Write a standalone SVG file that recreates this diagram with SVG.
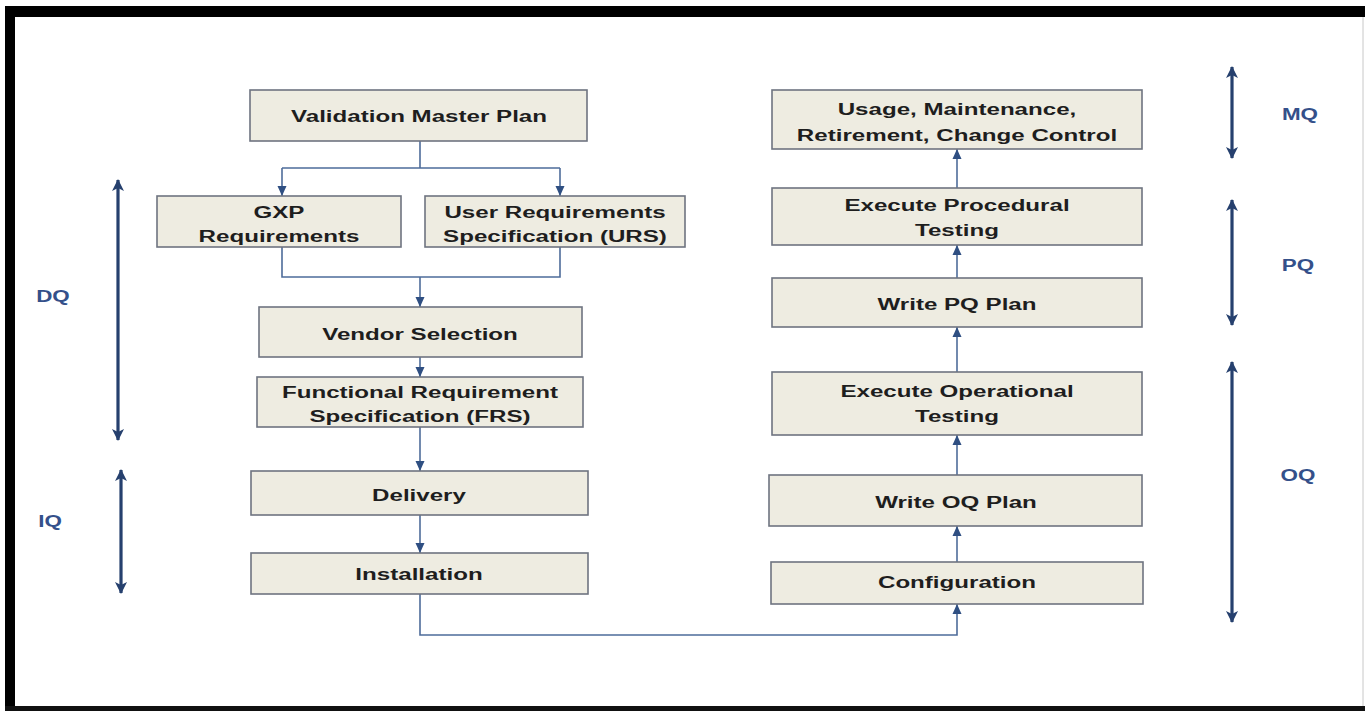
<svg xmlns="http://www.w3.org/2000/svg" width="1365" height="711" viewBox="0 0 1365 711">
  <style>
    .box { fill: #EEECE1; stroke: #6E7480; stroke-width: 1.6; }
    .t { font-family: "Liberation Sans", Arial, sans-serif; font-weight: bold; font-size: 17px; fill: #1E1E1E; text-anchor: middle; }
    .lbl { font-family: "Liberation Sans", Arial, sans-serif; font-weight: bold; font-size: 16px; fill: #34508A; text-anchor: middle; }
    .conn { fill: none; stroke: #4E6C9A; stroke-width: 1.6; }
    .span { fill: none; stroke: #26406E; stroke-width: 3.2; }
  </style>
  <defs>
    <marker id="ah" markerUnits="userSpaceOnUse" markerWidth="12" markerHeight="12" viewBox="0 0 12 12" refX="11" refY="6" orient="auto">
      <path d="M1,1.5 L11,6 L1,10.5 Z" fill="#2F4F82"/>
    </marker>
    <marker id="dh" markerUnits="userSpaceOnUse" markerWidth="14" markerHeight="14" viewBox="0 0 14 14" refX="12" refY="7" orient="auto-start-reverse">
      <path d="M1,1 L13,7 L1,13 L4,7 Z" fill="#26406E"/>
    </marker>
  </defs>

  <rect x="0" y="0" width="1365" height="711" fill="#FFFFFF"/>
  <g id="frame">
    <rect x="5" y="6" width="1360" height="11" fill="#000"/>
    <rect x="5" y="6" width="10" height="705" fill="#000"/>
    <rect x="5" y="706" width="1360" height="5" fill="#111"/>
    <line x1="1363" y1="17" x2="1363" y2="706" stroke="#C8C8C8" stroke-width="1"/>
  </g>

  <g id="connectors">
    <path class="conn" d="M420,141 V168 M282,168 H560"/>
    <path class="conn" d="M282,168 V196" marker-end="url(#ah)"/>
    <path class="conn" d="M560,168 V196" marker-end="url(#ah)"/>
    <path class="conn" d="M282,247 V277 H560 V247"/>
    <path class="conn" d="M420,277 V307" marker-end="url(#ah)"/>
    <path class="conn" d="M420,357 V377" marker-end="url(#ah)"/>
    <path class="conn" d="M420,427 V471" marker-end="url(#ah)"/>
    <path class="conn" d="M420,515 V553" marker-end="url(#ah)"/>
    <path class="conn" d="M420,594 V635 H957 V604" marker-end="url(#ah)"/>
    <path class="conn" d="M957,562 V526" marker-end="url(#ah)"/>
    <path class="conn" d="M957,475 V435" marker-end="url(#ah)"/>
    <path class="conn" d="M957,372 V327" marker-end="url(#ah)"/>
    <path class="conn" d="M957,278 V245" marker-end="url(#ah)"/>
    <path class="conn" d="M957,188 V149" marker-end="url(#ah)"/>
  </g>

  <g id="phase-arrows">
    <path class="span" d="M118,180 V440" marker-start="url(#dh)" marker-end="url(#dh)"/>
    <path class="span" d="M121,470 V593" marker-start="url(#dh)" marker-end="url(#dh)"/>
    <path class="span" d="M1232,67 V158" marker-start="url(#dh)" marker-end="url(#dh)"/>
    <path class="span" d="M1232,200 V325" marker-start="url(#dh)" marker-end="url(#dh)"/>
    <path class="span" d="M1232,362 V622" marker-start="url(#dh)" marker-end="url(#dh)"/>
  </g>

  <g id="label-dq"><text class="lbl" transform="translate(53,302) scale(1.4,1)">DQ</text></g>
  <g id="label-iq"><text class="lbl" transform="translate(50,527) scale(1.4,1)">IQ</text></g>
  <g id="label-mq"><text class="lbl" transform="translate(1300,120) scale(1.4,1)">MQ</text></g>
  <g id="label-pq"><text class="lbl" transform="translate(1298,271) scale(1.4,1)">PQ</text></g>
  <g id="label-oq"><text class="lbl" transform="translate(1298,481) scale(1.4,1)">OQ</text></g>

  <g id="vmp">
    <rect class="box" x="250" y="90" width="337" height="51"/>
    <text class="t" transform="translate(419,122) scale(1.42,1)">Validation Master Plan</text>
  </g>
  <g id="gxp">
    <rect class="box" x="157" y="196" width="244" height="51"/>
    <text class="t" transform="translate(279,218) scale(1.42,1)">GXP</text>
    <text class="t" transform="translate(279,242) scale(1.42,1)">Requirements</text>
  </g>
  <g id="urs">
    <rect class="box" x="425" y="196" width="260" height="51"/>
    <text class="t" transform="translate(555,218) scale(1.42,1)">User Requirements</text>
    <text class="t" transform="translate(555,242) scale(1.42,1)">Specification (URS)</text>
  </g>
  <g id="vendor">
    <rect class="box" x="259" y="307" width="323" height="50"/>
    <text class="t" transform="translate(420,340) scale(1.42,1)">Vendor Selection</text>
  </g>
  <g id="frs">
    <rect class="box" x="257" y="377" width="326" height="50"/>
    <text class="t" transform="translate(420,398) scale(1.42,1)">Functional Requirement</text>
    <text class="t" transform="translate(420,422) scale(1.42,1)">Specification (FRS)</text>
  </g>
  <g id="delivery">
    <rect class="box" x="251" y="471" width="337" height="44"/>
    <text class="t" transform="translate(419,501) scale(1.42,1)">Delivery</text>
  </g>
  <g id="installation">
    <rect class="box" x="251" y="553" width="337" height="41"/>
    <text class="t" transform="translate(419,580) scale(1.42,1)">Installation</text>
  </g>
  <g id="configuration">
    <rect class="box" x="771" y="562" width="372" height="42"/>
    <text class="t" transform="translate(957,588) scale(1.42,1)">Configuration</text>
  </g>
  <g id="write-oq">
    <rect class="box" x="769" y="475" width="373" height="51"/>
    <text class="t" transform="translate(956,508) scale(1.42,1)">Write OQ Plan</text>
  </g>
  <g id="exec-oq">
    <rect class="box" x="772" y="372" width="370" height="63"/>
    <text class="t" transform="translate(957,397) scale(1.42,1)">Execute Operational</text>
    <text class="t" transform="translate(957,422) scale(1.42,1)">Testing</text>
  </g>
  <g id="write-pq">
    <rect class="box" x="772" y="278" width="370" height="49"/>
    <text class="t" transform="translate(957,310) scale(1.42,1)">Write PQ Plan</text>
  </g>
  <g id="exec-pq">
    <rect class="box" x="772" y="188" width="370" height="57"/>
    <text class="t" transform="translate(957,211) scale(1.42,1)">Execute Procedural</text>
    <text class="t" transform="translate(957,236) scale(1.42,1)">Testing</text>
  </g>
  <g id="usage">
    <rect class="box" x="772" y="90" width="370" height="59"/>
    <text class="t" transform="translate(957,115) scale(1.42,1)">Usage, Maintenance,</text>
    <text class="t" transform="translate(957,141) scale(1.42,1)">Retirement, Change Control</text>
  </g>
</svg>
